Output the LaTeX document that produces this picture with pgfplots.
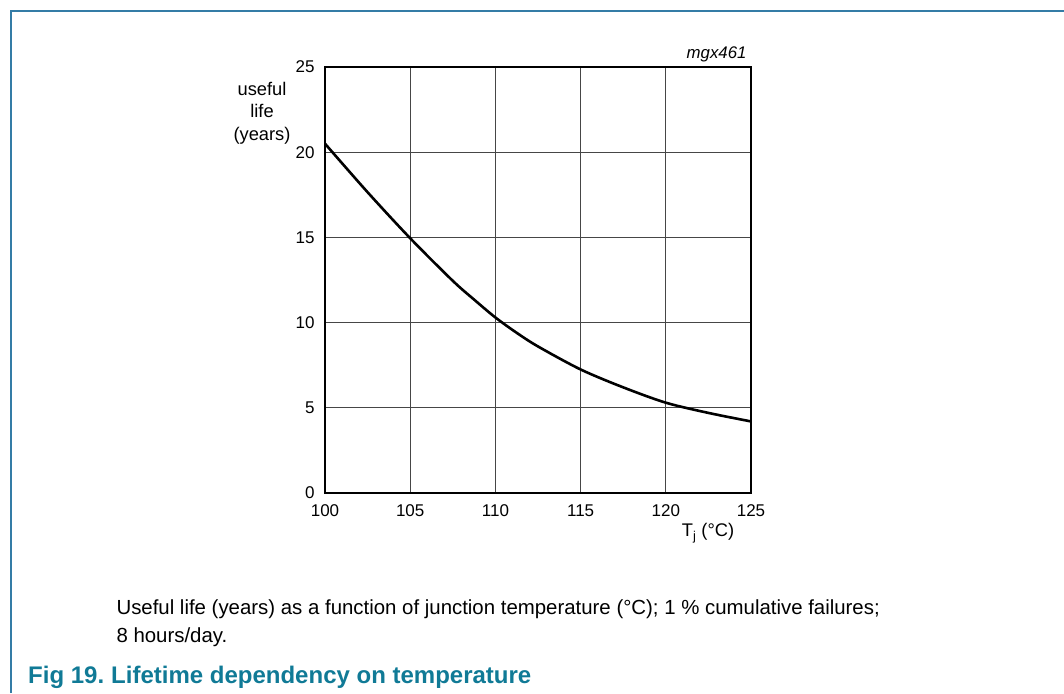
\documentclass[border=0pt]{standalone}
\usepackage{pgfplots}
\pgfplotsset{compat=1.18}
\usepackage{fontspec}
\setmainfont{Liberation Sans}
\definecolor{framec}{RGB}{52,124,166}
\definecolor{figc}{RGB}{16,122,150}
\definecolor{gridc}{RGB}{70,70,70}

\begin{document}
\begin{tikzpicture}[x=1pt,y=1pt]
  \useasboundingbox (0,0) rectangle (1064,693);
  % frame of the figure
  \draw[framec, line width=1.5pt] (11,0) -- (11,682) -- (1064,682);

  \begin{axis}[
    at={(325pt,200pt)}, anchor=south west,
    scale only axis, width=426pt, height=426pt,
    xmin=100, xmax=125, ymin=0, ymax=25,
    xtick={100,105,...,125}, ytick={0,5,...,25},
    grid=major,
    major grid style={gridc, line width=0.9pt},
    axis line style={black, line width=1.2pt},
    major tick length=0pt,
    tick label style={font=\fontsize{17}{20}\selectfont},
    /pgf/number format/assume math mode=true,
    xticklabel style={yshift=-8pt},
    yticklabel style={xshift=-7pt},
    clip=false,
  ]
    \addplot[black, line width=2.6pt, smooth] coordinates {
      (100,20.5) (102.5,17.65) (105,14.95) (107.5,12.45) (108.75,11.35)
      (110,10.3) (111.25,9.4) (112.5,8.6) (115,7.25) (117.5,6.2)
      (120,5.3) (122.5,4.7) (125,4.2)
    };
  \end{axis}

  \node[font=\fontsize{18.3}{22.5}\selectfont, align=center] at (262,580) {useful\\life\\(years)};
  \node[font=\fontsize{16.8}{20}\selectfont\itshape, anchor=base east] at (750,634) {mgx461};
  \node[font=\fontsize{18.3}{22}\selectfont, anchor=base] at (708,156) {T\textsubscript{j} (°C)};

  \node[font=\fontsize{20.4}{25}\selectfont, anchor=base west] at (113,79)
    {Useful life (years) as a function of junction temperature (°C); 1 \% cumulative failures;};
  \node[font=\fontsize{20.4}{25}\selectfont, anchor=base west] at (113,51) {8 hours/day.};
  \node[font=\fontsize{24}{28}\selectfont\bfseries, text=figc, anchor=base west, inner sep=0pt] at (28,10)
    {Fig 19.\hspace{7pt}Lifetime dependency on temperature};
\end{tikzpicture}
\end{document}
